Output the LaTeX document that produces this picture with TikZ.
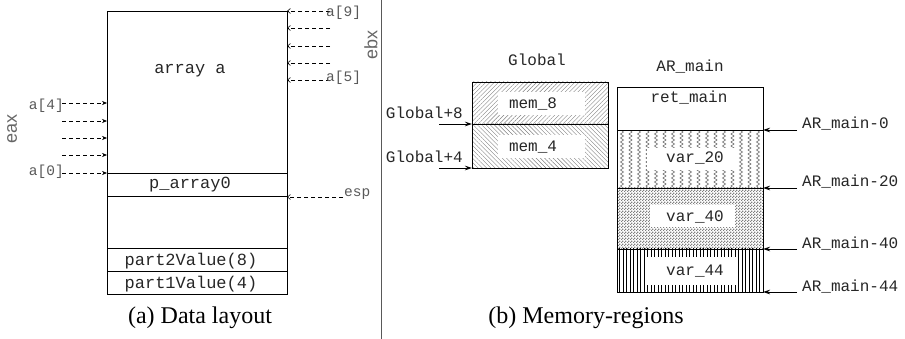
\documentclass[tikz,border=0pt]{standalone}
\usepackage{fontspec}
\setmainfont{Liberation Serif}
\setsansfont{Liberation Sans}
\setmonofont{Liberation Mono}
\usetikzlibrary{arrows.meta,patterns,patterns.meta,decorations.pathmorphing}
\pgfdeclarepatternformonly{mychecker}{\pgfqpoint{0pt}{0pt}}{\pgfqpoint{3pt}{3pt}}{\pgfqpoint{3pt}{3pt}}{%
  \pgfpathrectangle{\pgfpointorigin}{\pgfqpoint{1.5pt}{1.5pt}}%
  \pgfpathrectangle{\pgfqpoint{1.5pt}{1.5pt}}{\pgfqpoint{1.5pt}{1.5pt}}%
  \pgfusepath{fill}}
\begin{document}
\begin{tikzpicture}[x=1pt,y=-1pt,
  box/.style={draw, line width=0.8pt, inner sep=0, outer sep=0, anchor=north west},
  inset/.style={fill=white, inner sep=0, outer sep=0, anchor=north west},
  tt/.style={font=\ttfamily\fontsize{17}{20}\selectfont, text=black!85, inner sep=0},
  ttr/.style={font=\ttfamily\fontsize{16}{19}\selectfont, text=black!85, inner sep=0},
  small/.style={font=\ttfamily\fontsize{14.5}{16}\selectfont, text=black!65, inner sep=0},
  reg/.style={font=\sffamily\fontsize{18}{20}\selectfont, text=black!60, rotate=90, inner sep=0},
  captext/.style={font=\fontsize{24}{28}\selectfont, inner sep=0},
  inarr/.style={dash pattern=on 4pt off 3pt, line width=0.6pt, -{Stealth[length=5pt,width=4pt]}},
  outarr/.style={dash pattern=on 4pt off 3pt, line width=0.6pt, -{Straight Barb[length=3pt,width=5pt]}},
  ptr/.style={line width=0.8pt, -{Stealth[length=7pt,width=4.5pt]}},
  zz/.style={black!60, line width=0.55pt, decorate, decoration={zigzag, segment length=4pt, amplitude=1.6pt}}
]
\useasboundingbox (0,0) rectangle (905,339);

% ---------- (a) Data layout ----------
\node[box, minimum width=180pt, minimum height=162pt] (arr) at (107,11) {};
\node[box, minimum width=180pt, minimum height=23pt] (pa) at (107,173) {};
\node[box, minimum width=180pt, minimum height=52pt] (emp) at (107,196) {};
\node[box, minimum width=180pt, minimum height=23pt] (p2) at (107,248) {};
\node[box, minimum width=180pt, minimum height=23pt] (p1) at (107,271) {};
\node[tt] (arrt) at (190,71) {array a};
\node[tt] (pat) at (190,185) {p\_array0};
\node[tt] (p2t) at (191,261) {part2Value(8)};
\node[tt] (p1t) at (191,284) {part1Value(4)};

% eax arrows
\foreach \y/\n in {103/l4,121/l3,138/l2,155/l1,173/l0}{
  \coordinate (\n) at (62,\y);
  \draw[inarr] (\n) -- (\n -| arr.west);
}
\node[small, anchor=east] (a4) at (64,106) {a[4]};
\node[small, anchor=east] (a0) at (64,172) {a[0]};
\node[reg] (eax) at (12,129) {eax};

% ebx arrows
\foreach \y/\n in {11/r9,28/r8,46/r7,63/r6,80/r5}{
  \coordinate (\n) at (330,\y);
  \draw[outarr] (\n) -- (\n -| arr.east);
}
\node[small, anchor=west] (a9) at (326,13) {a[9]};
\node[small, anchor=west] (a5) at (326,78) {a[5]};
\node[reg] (ebx) at (371,45) {ebx};

% esp
\coordinate (espc) at (343,197);
\draw[outarr] (espc) -- (espc -| pa.east);
\node[small, anchor=west] (esp) at (344,194) {esp};

\node[captext] (capa) at (200,318) {(a) Data layout};

% divider
\draw[black!65, line width=1pt] (381,0) -- (381,339);

% ---------- (b) Memory regions ----------
\node[ttr, anchor=base] (glob) at (537,66) {Global};
\node[box, minimum width=136pt, minimum height=42pt,
      pattern={Lines[angle=45,distance=3pt,line width=0.4pt]}, pattern color=gray] (g8) at (472,82) {};
\node[box, minimum width=136pt, minimum height=44pt,
      pattern={Lines[angle=-45,distance=3pt,line width=0.4pt]}, pattern color=gray] (g4) at (472,124) {};
\node[inset, minimum width=87pt, minimum height=23pt] (g8i) at (498,92) {};
\node[inset, minimum width=87pt, minimum height=23pt] (g4i) at (498,135) {};
\node[ttr] (m8) at (533,104) {mem\_8};
\node[ttr] (m4) at (533,147) {mem\_4};
\draw[line width=0.8pt] (g8.north west) rectangle (g4.south east);
\draw[line width=0.8pt] (g8.south west) -- (g8.south east);
\coordinate (gp8) at (439,124);
\coordinate (gp4) at (439,168);
\draw[ptr] (gp8) -- (gp8 -| g8.west);
\draw[ptr] (gp4) -- (gp4 -| g4.west);
\node[ttr, anchor=base east] (gl8) at (463,119) {Global+8};
\node[ttr, anchor=base east] (gl4) at (463,163) {Global+4};

\node[ttr, anchor=base] (arm) at (690,72) {AR\_main};
\node[box, minimum width=146pt, minimum height=43pt] (ret) at (617,87) {};
\node[box, minimum width=146pt, minimum height=58pt] (v20) at (617,130) {};
\foreach \x in {622,630.5,...,760}{
  \draw[zz] (\x,131) -- (\x,187);
}
\node[box, minimum width=146pt, minimum height=61pt,
      pattern=mychecker, pattern color=black!50] (v40) at (617,188) {};
\node[box, minimum width=146pt, minimum height=43pt,
      pattern={Lines[angle=90,distance=3.5pt,line width=0.5pt]}, pattern color=black] (v44) at (617,249) {};
\node[inset, minimum width=90pt, minimum height=22pt] (v20i) at (647,148) {};
\node[inset, minimum width=85pt, minimum height=22pt] (v40i) at (650,205) {};
\node[inset, minimum width=90pt, minimum height=28pt] (v44i) at (647,257) {};
\node[ttr] (rett) at (689,98) {ret\_main};
\node[ttr] (v20t) at (695,158) {var\_20};
\node[ttr] (v40t) at (695,217) {var\_40};
\node[ttr] (v44t) at (695,271) {var\_44};
\draw[line width=0.8pt] (ret.north west) rectangle (v44.south east);
\foreach \n in {ret,v20,v40}{
  \draw[line width=0.8pt] (\n.south west) -- (\n.south east);
}
\foreach \y/\n/\t in {130/c0/0,188/c20/20,249/c40/40,292/c44/44}{
  \coordinate (\n) at (797,\y);
  \draw[ptr] (\n) -- (\n -| ret.east);
  \node[ttr, anchor=base west] at (802,\y-1) {AR\_main-\t};
}

\node[captext] (capb) at (586,318) {(b) Memory-regions};
\end{tikzpicture}
\end{document}
